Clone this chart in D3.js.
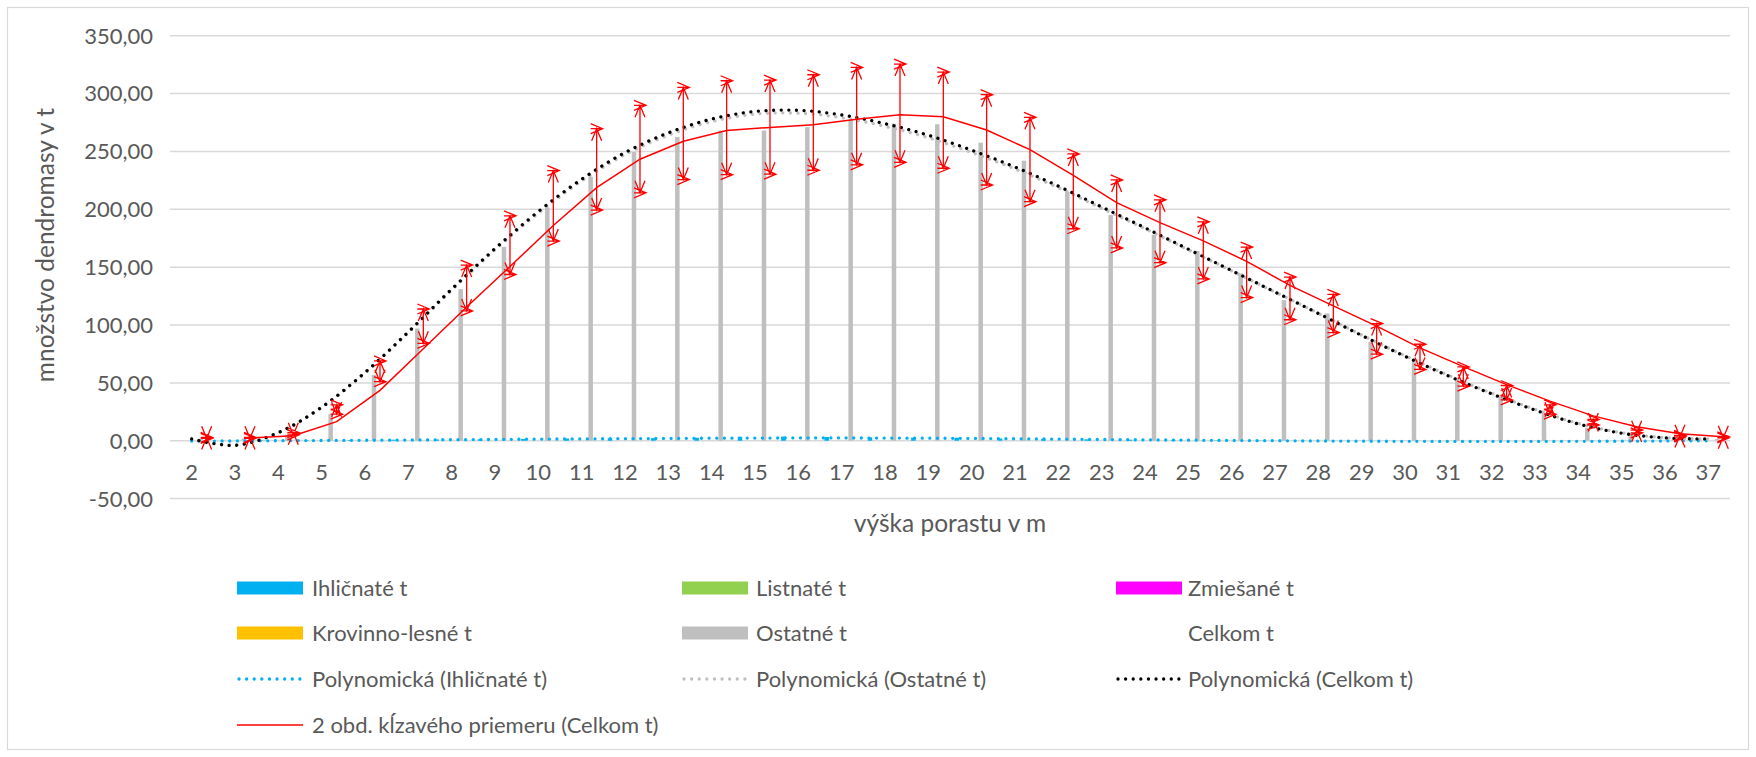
<!DOCTYPE html>
<html><head><meta charset="utf-8">
<script src="https://cdn.jsdelivr.net/npm/d3@7"></script>
<style>
html,body{margin:0;padding:0;background:#fff;}
svg{display:block;font-family:Lato,"Open Sans",sans-serif;}
</style></head><body>
<svg id="chart" width="1756" height="757"></svg>
<script>
// ---------- DATA ----------
const categories = ["2","3","4","5","6","7","8","9","10","11","12","13","14","15","16","17","18","19","20","21","22","23","24","25","26","27","28","29","30","31","32","33","34","35","36","37"];
const seriesNames = ["Ihličnaté t","Listnaté t","Zmiešané t","Krovinno-lesné t","Ostatné t","Celkom t"];
const ihlicnate = [0,0,0.2,0.4,0.6,0.9,1.1,1.3,1.6,1.9,2.1,2.3,2.6,3.4,3.6,3.2,2.9,2.7,2.6,2.0,1.6,1.2,0.9,0.6,0.3,0.2,0.1,0,0,0,0,0,0,0,0,0];
const listnate  = [0,0,0,0,0,0,0,0,0,0,0,0,0,0,0,0,0,0,0,0,0,0,0,0,0,0,0,0,0,0,0,0,0,0,0,0];
const zmiesane  = [0,0,0,0,0,0,0,0,0,0,0,0,0,0,0,0,0,0,0,0,0,0,0,0,0,0,0,0,0,0,0,0,0,0,0,0];
const krovinno  = [0,0,0,0,0,0,0,0,0,0,0,0,0,0,0,0,0,0,0,0,0,0,0,0,0,0,0,0,0,0,0,0,0,0,0,0];
const ostatne   = [1.5,2,5,23,57,97,131,167.5,201.5,228,249.5,262.5,268,268,271,277,274,273.5,257.5,242,215,195,178,164,144.5,121.5,110,85.5,68.5,52.5,38,24,11,5,2,1.5];
const celkom    = [2.5,2.5,6,27,60,99,132,169,203,234.5,252,265.5,270.5,271,275,280.5,283,277,260,243,215.5,196,181,164.5,145.5,123,110,88,72.5,55.5,41.5,27,16,8,4,3];
// trendlines (values at each category)
const trendIhlicnate = [-0.3,-0.2,0,0.2,0.4,0.6,0.9,1.1,1.4,1.6,1.8,2.0,2.2,2.3,2.4,2.4,2.3,2.2,2.0,1.7,1.4,1.1,0.8,0.5,0.2,0,-0.2,-0.4,-0.5,-0.6,-0.6,-0.6,-0.5,-0.4,-0.2,0];
const trendOstatne   = [1.8,-3.8,7,28.8,58.6,93.4,130.1,164.9,196.6,224.4,247.2,264,275.8,282.2,283.1,279.1,271.7,261.8,249,234.8,218.6,200.9,183.2,165,146.8,128.5,110.2,91.4,73.5,56.6,41.1,27.1,15,6.9,2.7,1.5];
const trendCelkom    = [1.5,-4,7,29,59,94,131,166,198,226,249,266,278,284.5,285.5,281.5,274,264,251,236.5,220,202,184,165.5,147,128.5,110,91,73,56,40.5,26.5,14.5,6.5,2.5,1.5];
const yTickValues = [-50,0,50,100,150,200,250,300,350];
const errorPercent = 15;
const xTitle = "výška porastu v m";
const yTitle = "množstvo dendromasy v t";
const legendRows = [
  [{label:"Ihličnaté t",type:"rect",color:"#00b0f0"},{label:"Listnaté t",type:"rect",color:"#92d050"},{label:"Zmiešané t",type:"rect",color:"#ff00ff"}],
  [{label:"Krovinno-lesné t",type:"rect",color:"#ffc000"},{label:"Ostatné t",type:"rect",color:"#bfbfbf"},{label:"Celkom t",type:"none",color:null}],
  [{label:"Polynomická (Ihličnaté t)",type:"dot",color:"#00b0f0"},{label:"Polynomická (Ostatné t)",type:"dot",color:"#bfbfbf"},{label:"Polynomická (Celkom t)",type:"dot",color:"#000000"}],
  [{label:"2 obd. kĺzavého priemeru (Celkom t)",type:"line",color:"#ff0000"}]
];
const seriesColors = ["#00b0f0","#92d050","#ff00ff","#ffc000","#bfbfbf","none"];
const seriesValues = [ihlicnate,listnate,zmiesane,krovinno,ostatne,celkom];

// ---------- LAYOUT ----------
const svg = d3.select("#chart");
const W = 1756, H = 757;
const plotL = 170, plotR = 1730, plotT = 35.7, plotB = 498.6;
const textColor = "#595959";

svg.append("rect").attr("x",7.5).attr("y",7.5).attr("width",W-15).attr("height",H-15)
  .attr("fill","#fff").attr("stroke","#d9d9d9").attr("stroke-width",1.2);

const x0 = d3.scaleBand().domain(categories).range([plotL,plotR]).padding(0);
const x1 = d3.scaleBand().domain(seriesNames).range([0,x0.bandwidth()]).paddingInner(0.25).paddingOuter(0.74);
const y = d3.scaleLinear().domain([-50,350]).range([plotB,plotT]);
const loc = d3.formatLocale({decimal:",",thousands:" ",grouping:[3],currency:["",""],minus:"-"});
const fmt = loc.format(".2f");

// gridlines
svg.append("g").selectAll("line").data(yTickValues).join("line")
  .attr("x1",plotL).attr("x2",plotR)
  .attr("y1",d=>y(d)).attr("y2",d=>y(d))
  .attr("stroke","#d9d9d9").attr("stroke-width",1.5);

// y tick labels
svg.append("g").selectAll("text").data(yTickValues).join("text")
  .attr("x",153).attr("y",d=>y(d)).attr("dy","0.36em")
  .attr("text-anchor","end").attr("font-size",22).attr("fill",textColor)
  .text(d=>fmt(d));

// x tick labels
svg.append("g").selectAll("text").data(categories).join("text")
  .attr("x",d=>x0(d)+x0.bandwidth()/2).attr("y",472).attr("dy","0.36em")
  .attr("text-anchor","middle").attr("font-size",22).attr("fill",textColor)
  .text(d=>d);

// axis titles
svg.append("text").attr("x",(plotL+plotR)/2).attr("y",523).attr("dy","0.36em")
  .attr("text-anchor","middle").attr("font-size",24.5).attr("fill",textColor).text(xTitle);
svg.append("text").attr("transform","translate(45,245) rotate(-90)").attr("dy","0.36em")
  .attr("text-anchor","middle").attr("font-size",24.5).attr("fill",textColor).text(yTitle);

// bars
const barG = svg.append("g");
seriesNames.forEach((s,si)=>{
  if(seriesColors[si]==="none") return;
  barG.append("g").selectAll("rect").data(seriesValues[si]).join("rect")
    .attr("x",(d,i)=>x0(categories[i])+x1(s))
    .attr("width",x1.bandwidth())
    .attr("y",d=>Math.min(y(d),y(0)))
    .attr("height",d=>Math.abs(y(0)-y(d)))
    .attr("fill",seriesColors[si]);
});

// trendlines at category centres
const cx = (i)=>x0(categories[i])+x0.bandwidth()/2;
const trendLine = d3.line().x((d,i)=>cx(i)).y(d=>y(d)).curve(d3.curveCatmullRom.alpha(0.5));
function dotted(data,color){
  svg.append("path").attr("d",trendLine(data)).attr("fill","none")
    .attr("stroke",color).attr("stroke-width",3.3)
    .attr("stroke-linecap","round").attr("stroke-dasharray","0.01 7.6");
}
dotted(trendIhlicnate,"#00b0f0");
dotted(trendOstatne,"#bfbfbf");
svg.append("path").attr("d",trendLine(trendCelkom)).attr("fill","none")
  .attr("stroke","#000").attr("stroke-width",3.3).attr("transform","translate(0,0)")
  .attr("stroke-linecap","round").attr("stroke-dasharray","0.01 7.6");

// moving average (2 periods) of Celkom at Celkom position
const celX = (i)=>x0(categories[i])+x1("Celkom t")+x1.bandwidth()/2;
const ma = d3.pairs(celkom,(a,b)=>(a+b)/2);
const maLine = d3.line().x((d,i)=>celX(i+1)).y(d=>y(d));
svg.append("path").attr("d",maLine(ma)).attr("fill","none")
  .attr("stroke","#ff0000").attr("stroke-width",1.5);

// error bars (±15 %) with open arrows
const eg = svg.append("g").attr("fill","none").attr("stroke","#ff0000").attr("stroke-width",1.3);
celkom.forEach((v,i)=>{
  const x = celX(i);
  const t = y(v*(1+errorPercent/100)), b = y(v*(1-errorPercent/100));
  let p = `M${x},${t}L${x},${b}`;
  // arrowheads on main line
  p += `M${x-5},${t+12}L${x},${t}L${x+5},${t+12}`;
  p += `M${x-5},${b-12}L${x},${b}L${x+5},${b-12}`;
  // caps with arrow at right end
  p += `M${x-6},${t}L${x+6},${t}M${x-6},${t-5}L${x+6},${t}L${x-6},${t+5}`;
  p += `M${x-6},${b}L${x+6},${b}M${x-6},${b-5}L${x+6},${b}L${x-6},${b+5}`;
  eg.append("path").attr("d",p);
});

// legend
const rowY = [588,633,679,725];
const swX = [237,682,1116], txX = [312,756,1188], swW = 66;
legendRows.forEach((row,ri)=>{
  row.forEach((it,ci)=>{
    const yy = rowY[ri];
    const g = svg.append("g");
    if(it.type==="rect"){
      g.append("rect").attr("x",swX[ci]).attr("y",yy-6.5).attr("width",swW).attr("height",13).attr("fill",it.color);
    } else if(it.type==="dot"){
      g.append("line").attr("x1",swX[ci]+2).attr("x2",swX[ci]+swW).attr("y1",yy).attr("y2",yy)
        .attr("stroke",it.color).attr("stroke-width",3.3).attr("stroke-linecap","round").attr("stroke-dasharray","0.01 7.6");
    } else if(it.type==="line"){
      g.append("line").attr("x1",swX[ci]).attr("x2",swX[ci]+swW).attr("y1",yy).attr("y2",yy)
        .attr("stroke",it.color).attr("stroke-width",1.5);
    }
    g.append("text").attr("x",txX[ci]).attr("y",yy).attr("dy","0.36em")
      .attr("font-size",22).attr("fill",textColor).text(it.label);
  });
});
</script>
</body></html>
